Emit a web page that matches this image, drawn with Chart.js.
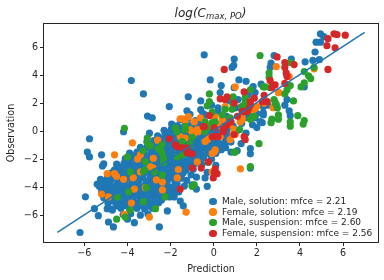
<!DOCTYPE html>
<html>
<head>
<meta charset="utf-8">
<script src="https://cdn.jsdelivr.net/npm/chart.js@4"></script>
<style>
html, body { margin: 0; padding: 0; background: #fff; }
#wrap { position: relative; width: 384px; height: 280px; font-family: "DejaVu Sans", sans-serif; color: #262626; }
#title { position: absolute; left: 43px; width: 335px; top: 6px; text-align: center; font-size: 12px; font-style: italic; white-space: nowrap; }
#title sub { font-size: 8.5px; vertical-align: -2px; line-height: 0; }
#legend { position: absolute; left: 206px; top: 196px; font-size: 9px; line-height: 10.7px; white-space: nowrap; }
#legend div { position: relative; padding-left: 16px; }
#legend i { position: absolute; left: 3px; top: 1.5px; width: 7.5px; height: 7.5px; border-radius: 50%; }
</style>
</head>
<body>
<div id="wrap">
  <canvas id="graphCanvas" width="384" height="280"></canvas>
  <div id="title">log(C<sub>max, PO</sub>)</div>
  <div id="legend"></div>
</div>
<script>
const seriesLabels = ['Male, solution: mfce = 2.21', 'Female, solution: mfce = 2.19', 'Male, suspension: mfce = 2.60', 'Female, suspension: mfce = 2.56'];
const seriesColors = ['#1f77b4', '#ff7f0e', '#2ca02c', '#d62728'];
const xTicks = [-6, -4, -2, 0, 2, 4, 6];
const yTicks = [-6, -4, -2, 0, 2, 4, 6];

// [prediction, observation]
const maleSolution = [
    [-3.82,3.66],[-3.26,2.7],[-1.18,2.5],[-2.06,1.8],[-3.07,1.12],[-2.85,1.0],[-1.24,1.5],[-2.98,-0.1],[-4.18,0],[-5.76,-0.5],
    [-5.86,-1.45],[-5.76,-1.8],[-5.2,-1.65],[-5.1,-2.3],[-5.16,-2.45],[-5.25,-3.4],[-5.4,-3.75],[-5.95,-4.65],[-5.53,-5.5],[-5.35,-6.0],
    [-6.2,-7.2],[-4.88,-6.45],[-4.65,-6.8],[-3.68,-6.5],[-2.52,-6.8],[-4.0,-6.25],[-2.15,-5.66],[-1.55,-4.95],[-1.41,-5.3],[-1.83,-4.66],
    [-4.94,-5.5],[-4.7,-5.6],[-0.44,5.5],[0.95,5.2],[0.93,4.75],[0.85,4.6],[-0.16,3.7],[1.17,3.7],[1.5,3.6],[0.35,3.3],
    [0.3,2.8],[0.95,3.15],[-0.6,2.2],[2.2,3.4],[2.8,5.45],[2.66,4.9],[2.62,4.6],[3.6,5.2],[4.24,5.0],[4.6,5.1],
    [4.9,5.15],[4.7,5.7],[4.75,6.4],[4.95,7.0],[5.1,6.8],[4.95,6.4],[4.2,3.2],[3.5,1.5],[3.4,2.3],[3.3,1.9],
    [3.55,1.15],[2.25,0.65],[2.0,0.3],[2.3,1.2],[1.27,-0.85],[1.09,-1.35],[0.8,-1.45],[1.7,-1.2],[1.7,-1.58],[1.7,-2.6],
    [0.1,-2.4],[-0.3,-2.9],[-0.4,-3.3],[-0.3,-3.9],[-0.8,-3.25],[-0.8,-4.1],[-1,-3.8],[0.53,-0.8],
    [0.6,1.1],[1.0,1.7],[1.3,0.6],[1.6,1.3],[2.0,1.3],[2.5,1.9],[0.2,1.7],[0.75,2.2],[-0.1,1.9],[-0.5,1.3],[0.9,0.4],[1.5,-0.1],[1.1,0.1],[1.8,0.5],
    [1.83,3.23],[1.92,2.8],[2.3,1.8],[2.3,1.36],[2.15,0.72],[1.23,1.72],[1.6,2.65],[1.13,2.3],[1.46,1.0],[1.92,1.0],[0.53,1.0],[0.2,1.43],[0.76,0.5],[-0.4,1.2],[-0.6,1.58],
    [-1.1,1.25],[-1.55,0.85],[-1.2,0.95],[-0.85,0.8],
    [-1.95,0.55],[-1.7,0.42],[-1.3,0.6],[-1.02,0.48],[-0.7,0.55],[-0.35,0.44],[-0.05,0.6],[0.35,0.5],
    [-2.3,0.1],[-1.96,0.2],[-1.62,0.05],[-1.3,0.14],[-0.96,0.02],[-0.66,0.16],[-0.3,0.06],[0.02,0.18],[0.3,0.04],[0.62,0.12],
    [-2.6,-0.3],[-2.26,-0.22],[-1.95,-0.36],[-1.6,-0.25],[-1.3,-0.32],[-0.95,-0.26],[-0.62,-0.35],[-0.3,-0.22],[0.02,-0.3],[0.36,-0.24],[0.7,-0.32],
    [-3.1,-0.72],[-2.78,-0.64],[-2.44,-0.76],[-2.1,-0.68],[-1.78,-0.72],[-1.44,-0.62],[-1.12,-0.76],[-0.78,-0.66],[-0.46,-0.74],[-0.1,-0.64],[0.2,-0.72],[0.55,-0.66],[0.8,-0.74],
    [-3.4,-1.12],[-3.08,-1.05],[-2.76,-1.16],[-2.42,-1.06],[-2.1,-1.14],[-1.76,-1.04],[-1.44,-1.16],[-1.1,-1.08],[-0.78,-1.14],[-0.46,-1.05],[-0.12,-1.12],[0.2,-1.06],[0.55,-1.14],
    [-3.9,-1.52],[-3.56,-1.46],[-3.24,-1.55],[-2.9,-1.48],[-2.58,-1.54],[-2.26,-1.44],[-1.92,-1.56],[-1.6,-1.46],[-1.26,-1.54],[-0.94,-1.46],[-0.6,-1.56],[-0.28,-1.48],[0.1,-1.54],
    [-4.1,-1.92],[-3.78,-1.86],[-3.44,-1.96],[-3.12,-1.88],[-2.8,-1.94],[-2.46,-1.84],[-2.12,-1.96],[-1.8,-1.88],[-1.48,-1.95],[-1.14,-1.84],[-0.82,-1.94],[-0.5,-1.88],[-0.1,-1.96],
    [-4.5,-2.32],[-4.16,-2.26],[-3.84,-2.36],[-3.5,-2.28],[-3.18,-2.34],[-2.86,-2.24],[-2.52,-2.36],[-2.2,-2.28],[-1.86,-2.34],[-1.54,-2.26],[-1.2,-2.36],[-0.88,-2.28],[-0.55,-2.34],
    [-4.6,-2.72],[-4.28,-2.66],[-3.94,-2.76],[-3.62,-2.68],[-3.28,-2.74],[-2.96,-2.64],[-2.62,-2.76],[-2.3,-2.68],[-1.96,-2.74],[-1.64,-2.66],[-1.3,-2.76],[-0.95,-2.68],
    [-4.9,-3.12],[-4.58,-3.06],[-4.24,-3.16],[-3.92,-3.08],[-3.58,-3.14],[-3.26,-3.04],[-2.92,-3.16],[-2.6,-3.08],[-2.26,-3.14],[-1.94,-3.06],[-1.6,-3.16],[-1.05,-3.08],
    [-5.1,-3.52],[-4.78,-3.46],[-4.44,-3.56],[-4.12,-3.48],[-3.78,-3.54],[-3.46,-3.44],[-3.12,-3.56],[-2.8,-3.48],[-2.46,-3.54],[-2.14,-3.46],[-1.8,-3.56],[-1.25,-3.48],
    [-5.3,-3.92],[-4.98,-3.86],[-4.64,-3.96],[-4.32,-3.88],[-3.98,-3.94],[-3.66,-3.84],[-3.32,-3.96],[-3,-3.88],[-2.66,-3.94],[-2.34,-3.86],[-2,-3.96],[-1.36,-3.88],
    [-5.2,-4.32],[-4.88,-4.26],[-4.54,-4.36],[-4.22,-4.28],[-3.88,-4.34],[-3.56,-4.24],[-3.22,-4.36],[-2.9,-4.28],[-2.56,-4.34],[-2.24,-4.26],[-1.9,-4.36],[-1.62,-4.3],
    [-5.1,-4.72],[-4.76,-4.66],[-4.44,-4.76],[-4.1,-4.68],[-3.78,-4.74],[-3.44,-4.64],[-3.12,-4.76],[-2.78,-4.68],[-2.46,-4.74],[-2.05,-4.66],
    [-4.9,-5.12],[-4.56,-5.06],[-4.24,-5.16],[-3.9,-5.08],[-3.58,-5.14],[-3.26,-5.04],[-2.92,-5.16],[-2.55,-5.08],
    [-4.7,-5.52],[-4.3,-5.46],[-3.9,-5.56],[-3.56,-5.48],[-3.2,-5.54],[-2.84,-5.46],
    [-4.2,-5.92],[-3.85,-5.86],[-3.4,-5.96],[-3.05,-5.88],
    // denser middle of the cloud
    [-1.8,0.25],[-1.45,0.3],[-1.15,0.32],[-0.8,0.28],[-0.48,0.26],[-0.15,0.35],
    [-2.1,-0.05],[-1.78,-0.1],[-1.46,-0.08],[-1.12,-0.12],[-0.8,-0.06],[-0.46,-0.1],[-0.15,-0.12],[0.18,-0.08],[0.5,-0.1],
    [-2.42,-0.5],[-2.1,-0.46],[-1.78,-0.5],[-1.45,-0.44],[-1.12,-0.54],[-0.8,-0.48],[-0.46,-0.52],[-0.14,-0.46],[0.18,-0.5],[0.52,-0.46],
    [-2.95,-0.92],[-2.6,-0.96],[-2.28,-0.9],[-1.95,-0.94],[-1.6,-0.88],[-1.28,-0.96],[-0.95,-0.9],[-0.62,-0.94],[-0.3,-0.88],[0.02,-0.94],[0.36,-0.9],
    [-3.24,-1.32],[-2.92,-1.28],[-2.6,-1.34],[-2.26,-1.26],[-1.92,-1.32],[-1.6,-1.26],[-1.28,-1.34],[-0.94,-1.28],[-0.62,-1.32],[-0.3,-1.26],[0.04,-1.32],[0.35,-1.28],
    [-3.72,-1.72],[-3.4,-1.66],[-3.06,-1.72],[-2.74,-1.66],[-2.42,-1.72],[-2.08,-1.64],[-1.76,-1.72],[-1.44,-1.66],[-1.1,-1.72],[-0.78,-1.66],[-0.44,-1.72],[-0.12,-1.66],
    [-3.95,-2.12],[-3.6,-2.06],[-3.28,-2.14],[-2.96,-2.08],[-2.62,-2.14],[-2.3,-2.06],[-1.96,-2.14],[-1.64,-2.08],[-1.3,-2.14],[-0.98,-2.08],[-0.65,-2.14],
    [-4.32,-2.52],[-4,-2.46],[-3.66,-2.54],[-3.34,-2.48],[-3,-2.54],[-2.68,-2.46],[-2.34,-2.54],[-2.02,-2.48],[-1.68,-2.54],[-1.36,-2.46],[-1.02,-2.52],
    [-4.72,-2.92],[-4.4,-2.86],[-4.06,-2.94],[-3.74,-2.88],[-3.4,-2.94],[-3.08,-2.86],[-2.76,-2.94],[-2.42,-2.88],[-2.1,-2.94],[-1.76,-2.86],[-1.42,-2.94],
    [-4.94,-3.32],[-4.62,-3.26],[-4.28,-3.34],[-3.96,-3.28],[-3.62,-3.34],[-3.3,-3.26],[-2.96,-3.34],[-2.64,-3.28],[-2.3,-3.34],[-1.98,-3.26],[-1.5,-3.32],
    [-5.14,-3.72],[-4.82,-3.66],[-4.48,-3.74],[-4.16,-3.68],[-3.82,-3.74],[-3.5,-3.66],[-3.16,-3.74],[-2.84,-3.68],[-2.5,-3.74],[-2.18,-3.66],[-1.7,-3.72],
    [-5.04,-4.12],[-4.72,-4.06],[-4.38,-4.14],[-4.06,-4.08],[-3.72,-4.14],[-3.4,-4.06],[-3.06,-4.14],[-2.74,-4.08],[-2.4,-4.14],[-2.08,-4.06],[-1.74,-4.12],
    [-4.94,-4.52],[-4.6,-4.46],[-4.28,-4.54],[-3.94,-4.48],[-3.62,-4.54],[-3.28,-4.46],[-2.96,-4.54],[-2.62,-4.48],[-2.3,-4.54],[-1.98,-4.46],
    [-4.74,-4.92],[-4.4,-4.86],[-4.08,-4.94],[-3.74,-4.88],[-3.42,-4.94],[-3.08,-4.86],[-2.76,-4.94],[-2.42,-4.88],
    [-4.44,-5.32],[-4.1,-5.28],[-3.74,-5.34],[-3.4,-5.26],[-3.06,-5.32],[-2.72,-5.28]
];

const femaleSolution = [
    [-1.46,0.93],[-1.18,1.08],[-1.32,0.8],[-1.55,-0.35],[-1.32,-0.45],[-1.1,0.15],[-2.6,-0.6],[-3.77,-0.8],[-4.6,-1.65],[-3.53,-1.95],
    [-3.4,-1.65],[-2.8,-1.9],[-2.94,-2.5],[-2.8,-2.6],[-1.64,-2.7],[-4.94,-3.0],[-4.6,-3.0],[-4.5,-3.2],[-4.18,-3.4],[-3.73,-3.3],
    [-3.4,-2.87],[-2.66,-3.44],[-2.38,-3.6],[-1.69,-3.3],[-3.68,-4.1],[-3.17,-4.0],[-2.38,-4.16],[-5.2,-4.45],[-4.88,-4.66],[-3.82,-5.1],
    [-4.14,-5.9],[-2.98,-6.1],[-1.28,-5.75],[1.24,-2.65],[-0.76,-2.15],[0.03,-1.43],[-0.07,-1.55],[-0.07,-2.87],[-0.4,-0.7],[1,3.2],
    [2.9,4.65],[4.66,4.5],[3.5,3.95],[3.03,2.8],[2.8,1.8],[2.34,2.05],[2,1.8],[1.88,1.6],[1.32,1.0],[1.23,0.7],
    [0.95,0.15],[0.4,0.86],[0.07,1.07],[0.53,1.8],[-0.76,0.15],[-0.9,0.7],[0.3,-0.35],[1,-0.2],[-0.2,-0.35],[-1,0],
    [-1.55,0.93],[-0.72,0],[-0.3,-0.57],[-0.02,-0.35],[0.76,-0.57],[0.9,-0.2],[-0.95,-0.2],[0.07,-1.3],
    [1.92,1.72],[1.7,1.58],[1.32,0.86],[2.75,1.72],[3,2.8],[0.76,0.5],[0.4,0.3],[0.2,0.5],[-0.4,0.15],[-0.16,0.5],[-0.62,1.0]
];

const maleSuspension = [
    [2.15,5.45],[2.57,4.2],[2.57,3.9],[3.55,4.95],[4.2,4.3],[4.5,3.8],[4.4,4.0],[4.2,3.5],[4.05,3.2],[4.65,4.6],
    [3.55,3.3],[3.4,3.0],[3.3,2.7],[3.7,2.2],[3.55,0.7],[3.55,0.4],[3.9,1.15],[4.2,0.8],[4.15,0.55],[3,1.2],
    [3,0.9],[2.7,0.9],[2.66,0.65],[2.9,1.95],[2.8,2.3],[2.3,3.2],[1.7,3.0],[-0.2,2.7],[-0.3,1.85],[-0.2,2.15],
    [0.9,2.5],[0.53,1.6],[1.46,2.3],[1.4,1.9],[1.87,1.1],[1.7,0.9],[1.2,0.15],[-0.07,1.4],[2.1,-0.85],[0.95,-1.45],
    [1.7,-2.5],[-0.9,-3.8],[-0.25,-2.2],[-4.5,-6.25],[-4.1,-6.1],[-3.87,-5.6],[-2.7,-5.5],[-4.47,-4.66],[-3.95,-4.3],[-3.26,-5.0],
    [-3.12,-4.0],[-2.25,-4.66],[-3.87,-2.87],[-3.26,-2.85],[-3.2,-2.75],[-2.38,-3.1],[-2.75,-2.87],[-3.17,-2.15],[-4,-1.8],[-3.27,-1.36],
    [-3.07,-0.8],[-2.94,-1.0],[-2.33,-1.9],[-2.48,-1.3],[-2.4,-1.5],[-2.33,-2.2],[-1.7,-1.8],[-1.46,-1.65],[-1,-3.9],[-4.14,0.25],
    [-3.08,-0.45],[-1.78,0.27],[-1.32,0.36],[-1.7,0],[-1.32,0.15],[-1.46,-0.7],[-1.1,-0.9],[-1,-0.4],[-0.3,0.3],[-0.4,0],
    [-0.07,0.65],[0.85,1.6],[0.9,1.95],[1,-1.45],[-3,-0.93],[-2.57,-1.2],[-2.4,-0.93],
    [1.46,2.44],[1.55,2.08],[1.3,1.8],[2.38,3.2],[2.62,3.15],[2.85,2.08],[2.95,1.72],[1.83,1.08],[0.4,1.2],[0.76,1.0],[0.07,0.7],[-0.4,0.7]
];

const femaleSuspension = [
    [5.58,7.0],[5.72,6.95],[6.1,6.9],[5.3,6.65],[5.25,6.15],[5.63,6.0],[5.3,4.45],[0.49,4.45],[2.94,5.35],[3.3,4.95],
    [3.73,4.8],[3.3,4.6],[3.36,4.2],[3.4,3.95],[2.62,3.65],[2.85,3.35],[3.3,3.45],[2.7,3.15],[1.41,2.85],[0.3,2.35],
    [0.53,2.3],[0.62,2.5],[0.95,2.05],[1.88,2.4],[2.34,2.6],[1.7,1.9],[2.25,2.15],[1.55,1.45],[1.32,1.45],[-0.2,1.15],
    [-0.44,0.36],[0.03,0.27],[0.49,0.27],[0.44,0],[-0.07,-0.35],[0.95,-0.2],[1.41,-0.35],[0.07,-0.35],[1.46,-0.57],[-1,-1.58],
    [-1,-2.6],[-0.58,-2.6],[-0.25,-2.15],[0.07,-2.65],[0.16,-3],[-0.02,-3.3],[0.03,-2.9],[-1.55,-4.1],[-2.06,-0.5],[-1.7,-1.07],
    [-1.46,-1.15],[-1.24,-1.15],[-1.78,-0.93],[-1.24,-1.5],[-0.48,0.36],[0.2,-0.35],[0.44,0.15],[0.62,0.5],[0.8,0.7],[1.1,1.1],
    [2.48,2.15],[1.7,2.15],[1.37,1.43],[1.6,1.58]
];

const fitLineX = [-7.25, 7];
const fitLineY = [-7.2, 7.1];

function toPoints(pairs) {
    return pairs.map(p => ({ x: p[0], y: p[1] }));
}

function scatterSet(pairs, i) {
    return {
        label: seriesLabels[i],
        data: toPoints(pairs),
        backgroundColor: seriesColors[i],
        borderColor: seriesColors[i],
        pointRadius: 3.6,
        pointBorderWidth: 0,
        showLine: false,
        order: 4 - i
    };
}

// matplotlib style minus sign on the tick labels
function minusLabel(value) {
    return String(value).replace('-', '\u2212');
}

// top and right spines, the rest of the box too
const frame = {
    id: 'frame',
    afterDraw(chart) {
        const a = chart.chartArea;
        const c = chart.ctx;
        c.save();
        c.strokeStyle = '#262626';
        c.lineWidth = 1;
        c.strokeRect(a.left - 0.5, a.top - 0.5, a.right - a.left + 1, a.bottom - a.top + 1);
        c.restore();
    }
};

const tickGrid = { drawOnChartArea: false, drawTicks: true, tickLength: 4, color: '#262626' };

Chart.defaults.font.family = '"DejaVu Sans", sans-serif';
Chart.defaults.font.size = 9.6;
Chart.defaults.color = '#262626';

new Chart(document.getElementById('graphCanvas').getContext('2d'), {
    type: 'scatter',
    data: {
        datasets: [
            {
                label: 'fit',
                data: fitLineX.map((x, i) => ({ x: x, y: fitLineY[i] })),
                showLine: true,
                borderColor: seriesColors[0],
                borderWidth: 1.5,
                pointRadius: 0,
                order: 0
            },
            scatterSet(maleSolution, 0),
            scatterSet(femaleSolution, 1),
            scatterSet(maleSuspension, 2),
            scatterSet(femaleSuspension, 3)
        ]
    },
    options: {
        responsive: false,
        animation: false,
        layout: { padding: { top: 24, right: 6, left: 0, bottom: 0 } },
        plugins: { legend: { display: false }, title: { display: false }, tooltip: { enabled: false } },
        scales: {
            x: {
                type: 'linear', min: -7.87, max: 7.62,
                afterFit(s) { s.height = 38; },
                afterBuildTicks(s) { s.ticks = xTicks.map(v => ({ value: v })); },
                grid: tickGrid,
                border: { display: false },
                ticks: { callback: minusLabel, padding: 2, maxRotation: 0, autoSkip: false },
                title: { display: true, text: 'Prediction', padding: { top: 2, bottom: 5 } }
            },
            y: {
                type: 'linear', min: -7.88, max: 7.7,
                afterFit(s) { s.width = 44; },
                afterBuildTicks(s) { s.ticks = yTicks.map(v => ({ value: v })); },
                grid: tickGrid,
                border: { display: false },
                ticks: { callback: minusLabel, padding: 2, autoSkip: false },
                title: { display: true, text: 'Observation', padding: { top: 6, bottom: 2 } }
            }
        }
    },
    plugins: [frame]
});

// legend sits inside the axes, no frame
document.getElementById('legend').innerHTML = seriesLabels
    .map((t, i) => `<div><i style="background:${seriesColors[i]}"></i>${t}</div>`)
    .join('');
</script>
</body>
</html>
